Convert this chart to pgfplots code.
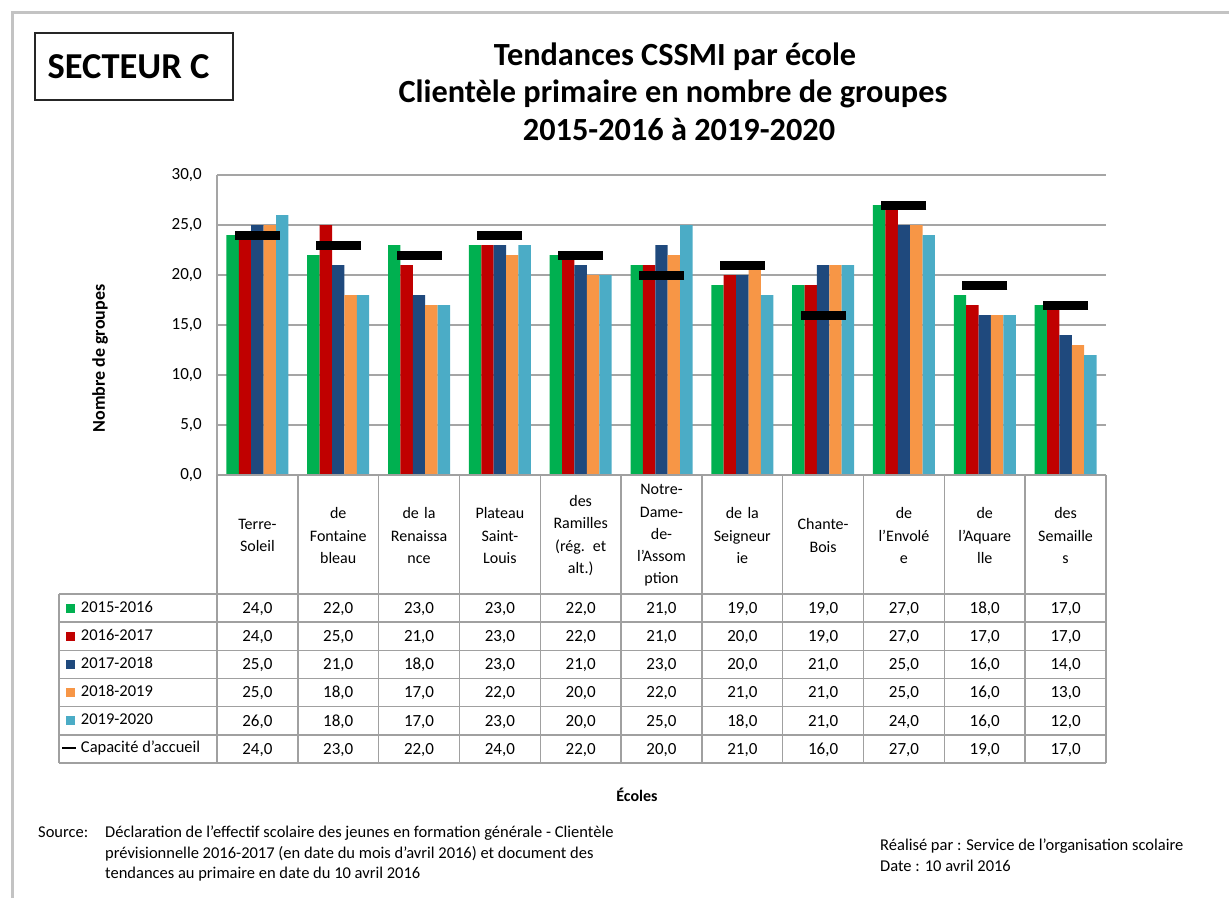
\documentclass[border=0pt]{standalone}
\usepackage{fontspec}
\setmainfont{Carlito}
\usepackage{pgfplots}
\usepackage{pgfplotstable}
\pgfplotsset{compat=1.18}
\definecolor{cA}{RGB}{0,176,80}
\definecolor{cB}{RGB}{192,0,0}
\definecolor{cC}{RGB}{31,73,125}
\definecolor{cD}{RGB}{247,150,70}
\definecolor{cE}{RGB}{75,172,198}
\definecolor{gridgray}{RGB}{165,165,165}
\definecolor{tabgray}{RGB}{160,160,160}
\definecolor{framegray}{RGB}{195,195,195}
\newcommand{\fs}[2]{\fontsize{#1}{#2}\selectfont}
\pgfplotsset{
  sqleg/.style={legend image code/.code={\fill[##1] (4pt,-4.5pt) rectangle (13pt,4.5pt);}},
  capleg/.style={legend image code/.code={\draw[black, line width=2.5pt] (0pt,0pt) -- (14pt,0pt);}},
}
\pgfplotstableread{
x a b c d e cap
0 24 24 25 25 26 24
1 22 25 21 18 18 23
2 23 21 18 17 17 22
3 23 23 23 22 23 24
4 22 22 21 20 20 22
5 21 21 23 22 25 20
6 19 20 20 21 18 21
7 19 19 21 21 21 16
8 27 27 25 25 24 27
9 18 17 16 16 16 19
10 17 17 14 13 12 17
}\schooldata

\begin{document}
\begin{tikzpicture}
\path[use as bounding box] (0pt,0pt) rectangle (1229pt,-898pt);
\begin{axis}[
  at={(217pt,-475pt)}, anchor=south west,
  scale only axis, width=889pt, height=300pt,
  xmin=-0.5, xmax=10.5, ymin=0, ymax=30,
  xtick={0,...,10},
  xticklabels={{Terre-\\Soleil},{de\\Fontaine\\bleau},{de la\\Renaissa\\nce},{Plateau\\Saint-\\Louis},{des\\Ramilles\\(rég. et\\alt.)},{Notre-\\Dame-\\de-\\l'Assom\\ption},{de la\\Seigneur\\ie},{Chante-\\Bois},{de\\l'Envolé\\e},{de\\l'Aquare\\lle},{des\\Semaille\\s}},
  xticklabel style={font=\fs{16}{22.3}, align=center, text width=79pt, anchor=center, yshift=-60.5pt, inner sep=0pt},
  ytick={0,5,...,30},
  yticklabel style={font=\fs{17}{20}, inner xsep=0pt, xshift=-15pt,
    /pgf/number format/fixed, /pgf/number format/fixed zerofill,
    /pgf/number format/precision=1, /pgf/number format/use comma,
    /pgf/number format/assume math mode=true},
  major tick length=0pt,
  axis line style={draw=none},
  ymajorgrids, grid style={draw=gridgray, line width=1.5pt},
  ylabel={Nombre de groupes},
  ylabel style={font=\bfseries\fs{18}{21}, at={(axis description cs:-0.1316,0.3883)}, anchor=center},
  xlabel={Écoles},
  xlabel style={font=\bfseries\fs{16}{19}, at={(axis description cs:0.4724,-1.0667)}, anchor=center},
  legend cell align=left,
  legend style={at={(axis description cs:-0.1755,-0.39667)}, anchor=north west,
    draw=none, fill=none, inner sep=0pt, outer sep=0pt, row sep=0pt, column sep=3.5pt,
    font=\fs{16.5}{20},
    nodes={inner xsep=0pt, inner ysep=7pt, text height=11pt, text depth=3pt}},
  clip=false,
]
\draw[gridgray, line width=1.5pt] (axis cs:-0.5,0) -- (axis cs:-0.5,30);
\addplot[ybar, bar width=12.4pt, bar shift=-24.8pt, fill=cA, draw=none, sqleg] table[x=x,y=a]{\schooldata};
\addlegendentry{2015-2016}
\addplot[ybar, bar width=12.4pt, bar shift=-12.4pt, fill=cB, draw=none, sqleg] table[x=x,y=b]{\schooldata};
\addlegendentry{2016-2017}
\addplot[ybar, bar width=12.4pt, bar shift=0pt, fill=cC, draw=none, sqleg] table[x=x,y=c]{\schooldata};
\addlegendentry{2017-2018}
\addplot[ybar, bar width=12.4pt, bar shift=12.4pt, fill=cD, draw=none, sqleg] table[x=x,y=d]{\schooldata};
\addlegendentry{2018-2019}
\addplot[ybar, bar width=12.4pt, bar shift=24.8pt, fill=cE, draw=none, sqleg] table[x=x,y=e]{\schooldata};
\addlegendentry{2019-2020}
\addplot[only marks, mark=-, mark size=22.5pt, mark options={line width=9pt, draw=black}, capleg] table[x=x,y=cap]{\schooldata};
\addlegendentry{Capacité d'accueil}
\end{axis}
\begin{scope}[x=1pt,y=-1pt]
% outer frame
\draw[framegray, line width=3pt] (12,898) -- (12,12) -- (1229,12);
% sector box
\draw[line width=2.5pt, black!85] (35,33) rectangle (233,100);
\node[anchor=base, font=\bfseries\fs{36.5}{40}] at (128.5,78) {SECTEUR C};
% title
\node[anchor=base, font=\bfseries\fs{32.3}{38}] at (675,65) {Tendances CSSMI par école};
\node[anchor=base, font=\bfseries\fs{32.3}{38}] at (673,102) {Clientèle primaire en nombre de groupes};
\node[anchor=base, font=\bfseries\fs{32.3}{38}] at (679,140) {2015-2016 à 2019-2020};
% data table grid
\foreach \k in {0,...,11} {\draw[tabgray, line width=1.5pt] ({217+\k*80.818},475) -- ({217+\k*80.818},763);}
\draw[tabgray, line width=1.5pt] (59,594) -- (59,763);
\draw[tabgray, line width=1.5pt] (217,475) -- (1106,475);
\foreach \r in {0,...,6} {\draw[tabgray, line width=1.5pt] (59,{594+\r*28.167}) -- (1106,{594+\r*28.167});}
% data table values
\foreach \col [count=\r from 0] in {a,b,c,d,e,cap} {
  \foreach \k in {0,...,10} {
    \pgfplotstablegetelem{\k}{\col}\of\schooldata
    \node[anchor=base, font=\fs{17}{20}, inner sep=0pt] at ({217+(\k+0.5)*80.818},{594+(\r+0.5)*28.167+5.4})
      {\pgfmathprintnumber[fixed,fixed zerofill,precision=1,use comma,assume math mode=true]{\pgfplotsretval}};
  }
}
% footer
\node[anchor=base west, font=\fs{16.5}{20}, inner sep=0pt] at (38,837) {Source:};
\node[anchor=base west, font=\fs{16.5}{20}, inner sep=0pt] at (105,837) {Déclaration de l'effectif scolaire des jeunes en formation générale - Clientèle};
\node[anchor=base west, font=\fs{16.5}{20}, inner sep=0pt] at (105,858) {prévisionnelle 2016-2017 (en date du mois d'avril 2016) et document des};
\node[anchor=base west, font=\fs{16.5}{20}, inner sep=0pt] at (105,878.5) {tendances au primaire en date du 10 avril 2016};
\node[anchor=base west, font=\fs{16.5}{20}, inner sep=0pt] at (880,850) {Réalisé par : Service de l'organisation scolaire};
\node[anchor=base west, font=\fs{16.5}{20}, inner sep=0pt] at (880,871) {Date : 10 avril 2016};
\end{scope}
\end{tikzpicture}
\end{document}
